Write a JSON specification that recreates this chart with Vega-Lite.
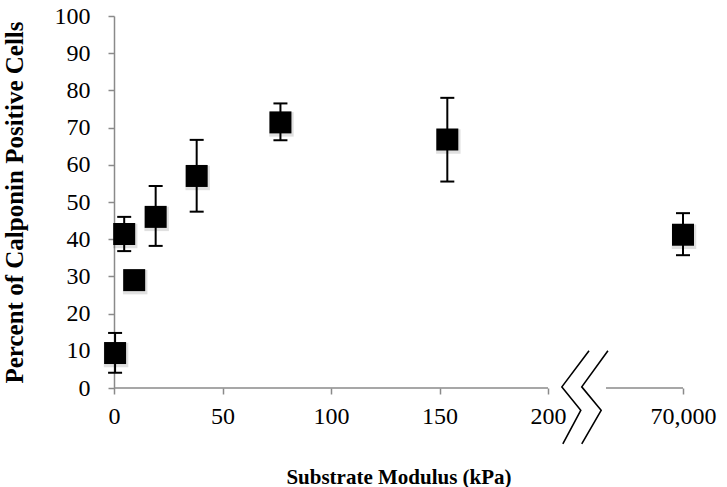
{
  "$schema": "https://vega.github.io/schema/vega-lite/v6.json",
  "width": 569,
  "height": 372,
  "autosize": "none",
  "padding": {"left": 114, "top": 16, "right": 44, "bottom": 99},
  "background": "white",
  "config": {
    "view": {"stroke": null},
    "font": "Liberation Serif",
    "axis": {
      "grid": false,
      "domainColor": "#8a8a8a",
      "domainWidth": 1.5,
      "tickColor": "#8a8a8a",
      "tickWidth": 1.5,
      "tickSize": 6,
      "labelFont": "Liberation Serif",
      "labelFontSize": 24,
      "labelColor": "black",
      "labelFlush": false,
      "labelOverlap": false,
      "titleFont": "Liberation Serif",
      "titleFontWeight": "bold",
      "titleColor": "black"
    },
    "axisX": {"domain": false, "labelPadding": 10, "titleFontSize": 21, "titlePadding": 38},
    "axisY": {"labelPadding": 18, "titleFontSize": 25, "titlePadding": 27}
  },
  "datasets": {
    "points": [
      {"modulus": 0.5, "percent": 9.4, "lo": 4.1, "hi": 14.8},
      {"modulus": 4.7, "percent": 41.4, "lo": 36.8, "hi": 46.0},
      {"modulus": 9.3, "percent": 29.0, "lo": null, "hi": null},
      {"modulus": 19.2, "percent": 46.0, "lo": 38.2, "hi": 54.3},
      {"modulus": 38.1, "percent": 57.0, "lo": 47.4, "hi": 66.7},
      {"modulus": 76.7, "percent": 71.4, "lo": 66.6, "hi": 76.5},
      {"modulus": 153.6, "percent": 66.8, "lo": 55.5, "hi": 78.0},
      {"modulus": 70000, "percent": 41.2, "lo": 35.7, "hi": 47.0}
    ],
    "axisline": [
      {"from": 0, "to": 200},
      {"from": 60000, "to": 70000}
    ],
    "breakmark": [
      {"line": "a", "seq": 1, "bx": 42500, "by": 10},
      {"line": "a", "seq": 2, "bx": 14500, "by": 0.3},
      {"line": "a", "seq": 3, "bx": 34000, "by": -6},
      {"line": "a", "seq": 4, "bx": 15500, "by": -15},
      {"line": "b", "seq": 1, "bx": 60250, "by": 10},
      {"line": "b", "seq": 2, "bx": 35000, "by": 0.3},
      {"line": "b", "seq": 3, "bx": 55000, "by": -6},
      {"line": "b", "seq": 4, "bx": 35000, "by": -15}
    ]
  },
  "layer": [
    {
      "data": {"name": "axisline"},
      "mark": {"type": "rule", "color": "#8a8a8a", "strokeWidth": 1.5},
      "encoding": {
        "x": {"field": "from", "type": "quantitative", "title": "Substrate Modulus (kPa)",
              "scale": {"domain": [0, 200, 60000, 70000], "range": [0, 434, 492, 569], "zero": false, "nice": false},
              "axis": {"values": [0, 50, 100, 150, 200, 70000], "labelExpr": "format(datum.value, ',')"}},
        "x2": {"field": "to"},
        "y": {"datum": 0, "type": "quantitative", "title": "Percent of Calponin Positive Cells",
              "scale": {"domain": [0, 100], "nice": false, "zero": false},
              "axis": {"values": [0, 10, 20, 30, 40, 50, 60, 70, 80, 90, 100]}}
      }
    },
    {
      "data": {"name": "breakmark"},
      "mark": {"type": "line", "color": "black", "strokeWidth": 1.6, "clip": false},
      "encoding": {
        "x": {"field": "bx", "type": "quantitative", "title": "Substrate Modulus (kPa)",
              "scale": {"domain": [0, 200, 60000, 70000], "range": [0, 434, 492, 569], "zero": false, "nice": false},
              "axis": {"values": [0, 50, 100, 150, 200, 70000], "labelExpr": "format(datum.value, ',')"}},
        "y": {"field": "by", "type": "quantitative", "title": "Percent of Calponin Positive Cells",
              "scale": {"domain": [0, 100], "nice": false, "zero": false},
              "axis": {"values": [0, 10, 20, 30, 40, 50, 60, 70, 80, 90, 100]}},
        "detail": {"field": "line", "type": "nominal"},
        "order": {"field": "seq", "type": "quantitative"}
      }
    },
    {
      "data": {"name": "points"},
      "mark": {"type": "rule", "color": "black", "strokeWidth": 2},
      "encoding": {
        "x": {"field": "modulus", "type": "quantitative", "title": "Substrate Modulus (kPa)",
              "scale": {"domain": [0, 200, 60000, 70000], "range": [0, 434, 492, 569], "zero": false, "nice": false},
              "axis": {"values": [0, 50, 100, 150, 200, 70000], "labelExpr": "format(datum.value, ',')"}},
        "y": {"field": "lo", "type": "quantitative", "title": "Percent of Calponin Positive Cells",
              "scale": {"domain": [0, 100], "nice": false, "zero": false},
              "axis": {"values": [0, 10, 20, 30, 40, 50, 60, 70, 80, 90, 100]}},
        "y2": {"field": "hi"}
      }
    },
    {
      "data": {"name": "points"},
      "mark": {"type": "tick", "orient": "horizontal", "size": 14, "thickness": 2, "color": "black", "opacity": 1},
      "encoding": {
        "x": {"field": "modulus", "type": "quantitative", "title": "Substrate Modulus (kPa)",
              "scale": {"domain": [0, 200, 60000, 70000], "range": [0, 434, 492, 569], "zero": false, "nice": false},
              "axis": {"values": [0, 50, 100, 150, 200, 70000], "labelExpr": "format(datum.value, ',')"}},
        "y": {"field": "hi", "type": "quantitative", "title": "Percent of Calponin Positive Cells",
              "scale": {"domain": [0, 100], "nice": false, "zero": false},
              "axis": {"values": [0, 10, 20, 30, 40, 50, 60, 70, 80, 90, 100]}}
      }
    },
    {
      "data": {"name": "points"},
      "mark": {"type": "tick", "orient": "horizontal", "size": 14, "thickness": 2, "color": "black", "opacity": 1},
      "encoding": {
        "x": {"field": "modulus", "type": "quantitative", "title": "Substrate Modulus (kPa)",
              "scale": {"domain": [0, 200, 60000, 70000], "range": [0, 434, 492, 569], "zero": false, "nice": false},
              "axis": {"values": [0, 50, 100, 150, 200, 70000], "labelExpr": "format(datum.value, ',')"}},
        "y": {"field": "lo", "type": "quantitative", "title": "Percent of Calponin Positive Cells",
              "scale": {"domain": [0, 100], "nice": false, "zero": false},
              "axis": {"values": [0, 10, 20, 30, 40, 50, 60, 70, 80, 90, 100]}}
      }
    },
    {
      "data": {"name": "points"},
      "mark": {"type": "square", "size": 600, "filled": true, "color": "black", "opacity": 0.12, "xOffset": 1, "yOffset": 2},
      "encoding": {
        "x": {"field": "modulus", "type": "quantitative", "title": "Substrate Modulus (kPa)",
              "scale": {"domain": [0, 200, 60000, 70000], "range": [0, 434, 492, 569], "zero": false, "nice": false},
              "axis": {"values": [0, 50, 100, 150, 200, 70000], "labelExpr": "format(datum.value, ',')"}},
        "y": {"field": "percent", "type": "quantitative", "title": "Percent of Calponin Positive Cells",
              "scale": {"domain": [0, 100], "nice": false, "zero": false},
              "axis": {"values": [0, 10, 20, 30, 40, 50, 60, 70, 80, 90, 100]}}
      }
    },
    {
      "data": {"name": "points"},
      "mark": {"type": "square", "size": 484, "filled": true, "color": "black", "opacity": 1},
      "encoding": {
        "x": {"field": "modulus", "type": "quantitative", "title": "Substrate Modulus (kPa)",
              "scale": {"domain": [0, 200, 60000, 70000], "range": [0, 434, 492, 569], "zero": false, "nice": false},
              "axis": {"values": [0, 50, 100, 150, 200, 70000], "labelExpr": "format(datum.value, ',')"}},
        "y": {"field": "percent", "type": "quantitative", "title": "Percent of Calponin Positive Cells",
              "scale": {"domain": [0, 100], "nice": false, "zero": false},
              "axis": {"values": [0, 10, 20, 30, 40, 50, 60, 70, 80, 90, 100]}}
      }
    }
  ]
}
